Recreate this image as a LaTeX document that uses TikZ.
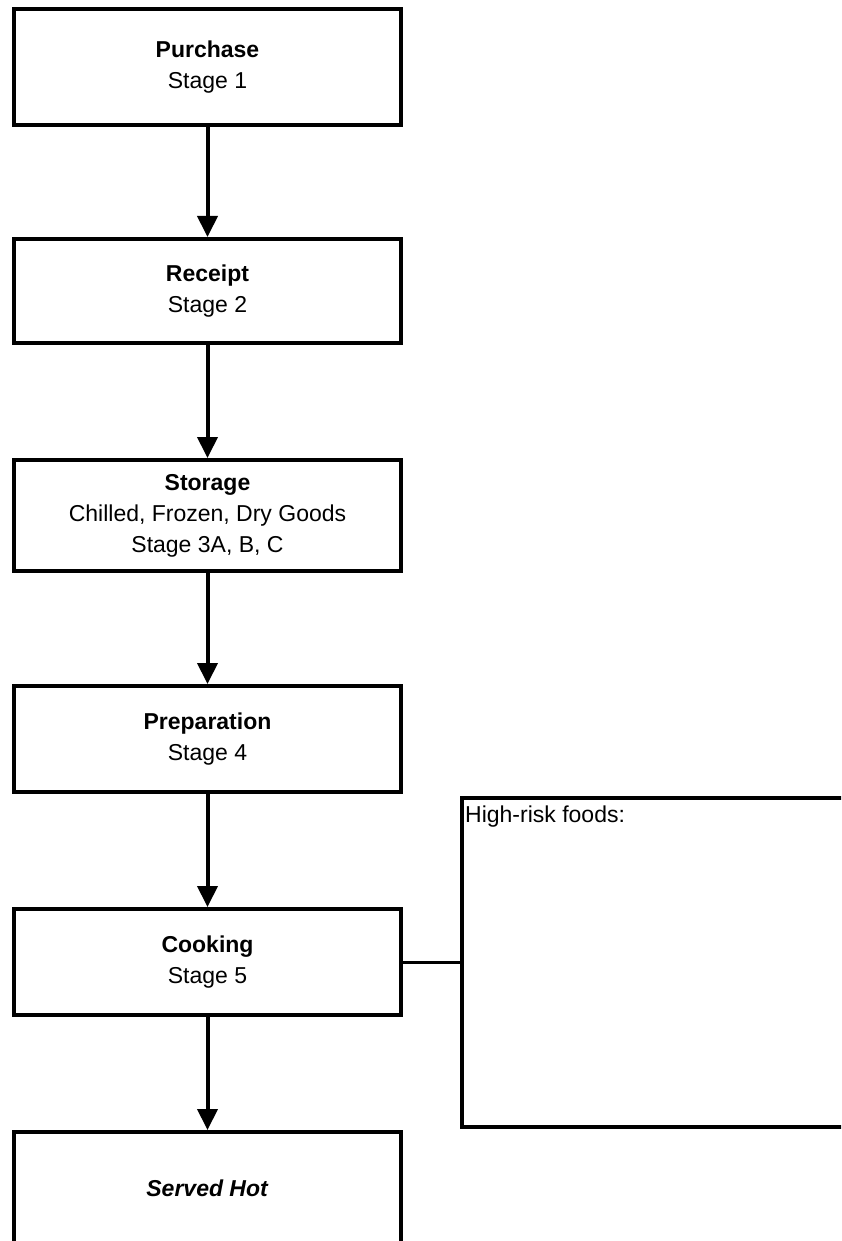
\documentclass[tikz,border=0pt]{standalone}
\usepackage{fontspec}
\setmainfont{Liberation Sans}
\usepackage{tikz}
\usepackage{xcolor}
\usetikzlibrary{
    arrows.meta,
    positioning,
    calc
}
\definecolor{ink}{HTML}{000000}
\tikzset{
    % Stage box style
    stage/.style={
        rectangle,
        minimum width=387pt,
        minimum height=#1,
        align=center,
        font=\fontsize{23}{31}\selectfont,
        draw=ink,
        fill=white,
        line width=4pt,
        inner sep=0pt
    },
    % Note box style
    note/.style={
        rectangle,
        minimum width=438pt,
        minimum height=329pt,
        draw=ink,
        fill=white,
        line width=4pt
    },
    % Arrow styles
    flow/.style={
        -{Triangle[length=21pt, width=20pt]},
        line width=4pt,
        color=ink
    },
    link/.style={
        line width=3pt,
        color=ink
    },
    % Label style
    note text/.style={
        font=\fontsize{23}{31}\selectfont,
        text=ink,
        inner sep=0pt
    }
}
\begin{document}
\begin{tikzpicture}[x=1pt, y=1pt]

        % Frame
        \useasboundingbox (0,0) rectangle (841,-1241);
        \clip (0,0) rectangle (841,-1241);

        % Stages
        \node[stage=116pt] (purchase) at (207.5, -67) {\textbf{Purchase}\\Stage 1};
        \node[stage=104pt] (receipt) at (207.5, -291) {\textbf{Receipt}\\Stage 2};
        \node[stage=111pt] (storage) at (207.5, -515.5) {\textbf{Storage}\\Chilled, Frozen, Dry Goods\\Stage 3A, B, C};
        \node[stage=106pt] (prep) at (207.5, -739) {\textbf{Preparation}\\Stage 4};
        \node[stage=106pt] (cooking) at (207.5, -962) {\textbf{Cooking}\\Stage 5};
        \node[stage=112pt] (served) at (207.5, -1188) {\textbf{\textit{Served Hot}}};

        % High-risk foods
        \node[note] (risk) at (681, -962) {};
        \node[note text, anchor=north west] (risklabel) at ([xshift=5pt, yshift=-10pt]risk.north west) {High-risk foods:};

        % Connections
        \draw[flow] (purchase) -- (receipt);
        \draw[flow] (receipt) -- (storage);
        \draw[flow] (storage) -- (prep);
        \draw[flow] (prep) -- (cooking);
        \draw[flow] (cooking) -- (served);
        \draw[link] (cooking.east) -- (risk.west);

    \end{tikzpicture}
\end{document}
